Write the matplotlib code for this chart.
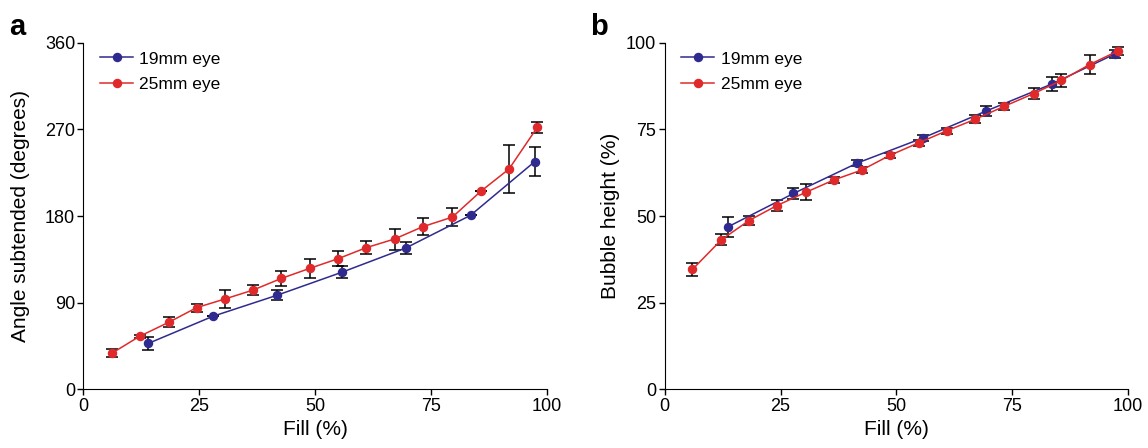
import matplotlib.pyplot as plt

plt.rcParams["font.family"] = ["Liberation Sans", "DejaVu Sans"]

# panel a: angle subtended (degrees)
fill_19_a = [14.0, 27.9, 41.7, 55.7, 69.5, 83.5, 97.3]
angle_19 = [47.7, 75.8, 97.6, 121.5, 146.7, 180.7, 236.3]
angle_19_err = [7.1, 0, 5.2, 6.2, 6.4, 0, 15.2]

fill_25_a = [6.2, 12.2, 18.4, 24.4, 30.5, 36.6, 42.7, 48.8, 54.9, 61.0,
             67.1, 73.2, 79.6, 85.7, 91.8, 97.9]
angle_25 = [37.7, 55.3, 69.6, 84.8, 93.8, 103.1, 115.2, 125.6, 135.6, 147.1,
            156.1, 168.9, 178.9, 205.6, 228.8, 272.1]
angle_25_err = [4.5, 1.5, 5.2, 4.0, 9.0, 4.8, 7.6, 9.7, 7.8, 7.0,
                10.9, 9.0, 9.7, 0, 25.0, 5.4]

# panel b: bubble height (%)
fill_19_b = [13.7, 27.8, 41.6, 55.7, 69.4, 83.6, 97.1]
height_19 = [46.9, 56.5, 65.3, 72.5, 80.3, 88.1, 96.7]
height_19_err = [2.9, 1.6, 1.0, 1.0, 1.5, 2.1, 1.2]

fill_25_b = [6.0, 12.2, 18.2, 24.2, 30.4, 36.5, 42.6, 48.6, 54.8, 60.9,
             67.0, 73.2, 79.6, 85.6, 91.7, 97.8]
height_25 = [34.6, 43.1, 48.7, 53.0, 56.8, 60.4, 63.3, 67.5, 71.1, 74.6,
             77.9, 81.6, 85.3, 89.1, 93.7, 97.6]
height_25_err = [1.8, 1.6, 1.4, 1.7, 2.3, 0.8, 0.9, 0.7, 0.9, 0.8,
                 1.1, 0.9, 1.5, 1.8, 2.8, 1.2]

blue = "#2f2a8e"
red = "#e0292a"

fig = plt.figure(figsize=(11.48, 4.48), dpi=100)
ax_a = fig.add_axes([0.0727, 0.131, 0.4038, 0.7737])
ax_b = fig.add_axes([0.579, 0.131, 0.4036, 0.7737])


def draw(ax, x19, y19, e19, x25, y25, e25, ticks, ylabel, letter, ylab_x):
    ax.errorbar(x19, y19, yerr=e19, fmt="none", ecolor="black", elinewidth=1.1,
                capsize=4, capthick=1.1, zorder=2)
    ax.errorbar(x25, y25, yerr=e25, fmt="none", ecolor="black", elinewidth=1.1,
                capsize=4, capthick=1.1, zorder=2)
    ax.plot(x19, y19, "-o", color=blue, lw=1.1, ms=5.8, label="19mm eye", zorder=3)
    ax.plot(x25, y25, "-o", color=red, lw=1.1, ms=5.8, label="25mm eye", zorder=4)
    ax.set_xlim(0, 100)
    ax.set_ylim(ticks[0], ticks[-1])
    ax.set_xticks([0, 25, 50, 75, 100])
    ax.set_yticks(ticks)
    ax.spines["top"].set_visible(False)
    ax.spines["right"].set_visible(False)
    ax.tick_params(direction="out", length=4, width=1, labelsize=13, pad=2)
    ax.set_xlabel("Fill (%)", fontsize=15, labelpad=4)
    ax.set_ylabel(ylabel, fontsize=15, va="center")
    ax.yaxis.set_label_coords(ylab_x, 0.5)
    ax.legend(loc="upper left", bbox_to_anchor=(0.025, 0.99), frameon=False,
              fontsize=12.5, handlelength=1.9, handletextpad=0.35,
              borderaxespad=0, labelspacing=0.62, borderpad=0.3)
    ax.text(-0.16, 1.085, letter, transform=ax.transAxes, fontsize=21,
            fontweight="bold", va="top", ha="left")


draw(ax_a, fill_19_a, angle_19, angle_19_err, fill_25_a, angle_25, angle_25_err,
     [0, 90, 180, 270, 360], "Angle subtended (degrees)", "a", -0.135)
draw(ax_b, fill_19_b, height_19, height_19_err, fill_25_b, height_25, height_25_err,
     [0, 25, 50, 75, 100], "Bubble height (%)", "b", -0.118)

fig.savefig("out.png", dpi=100)
